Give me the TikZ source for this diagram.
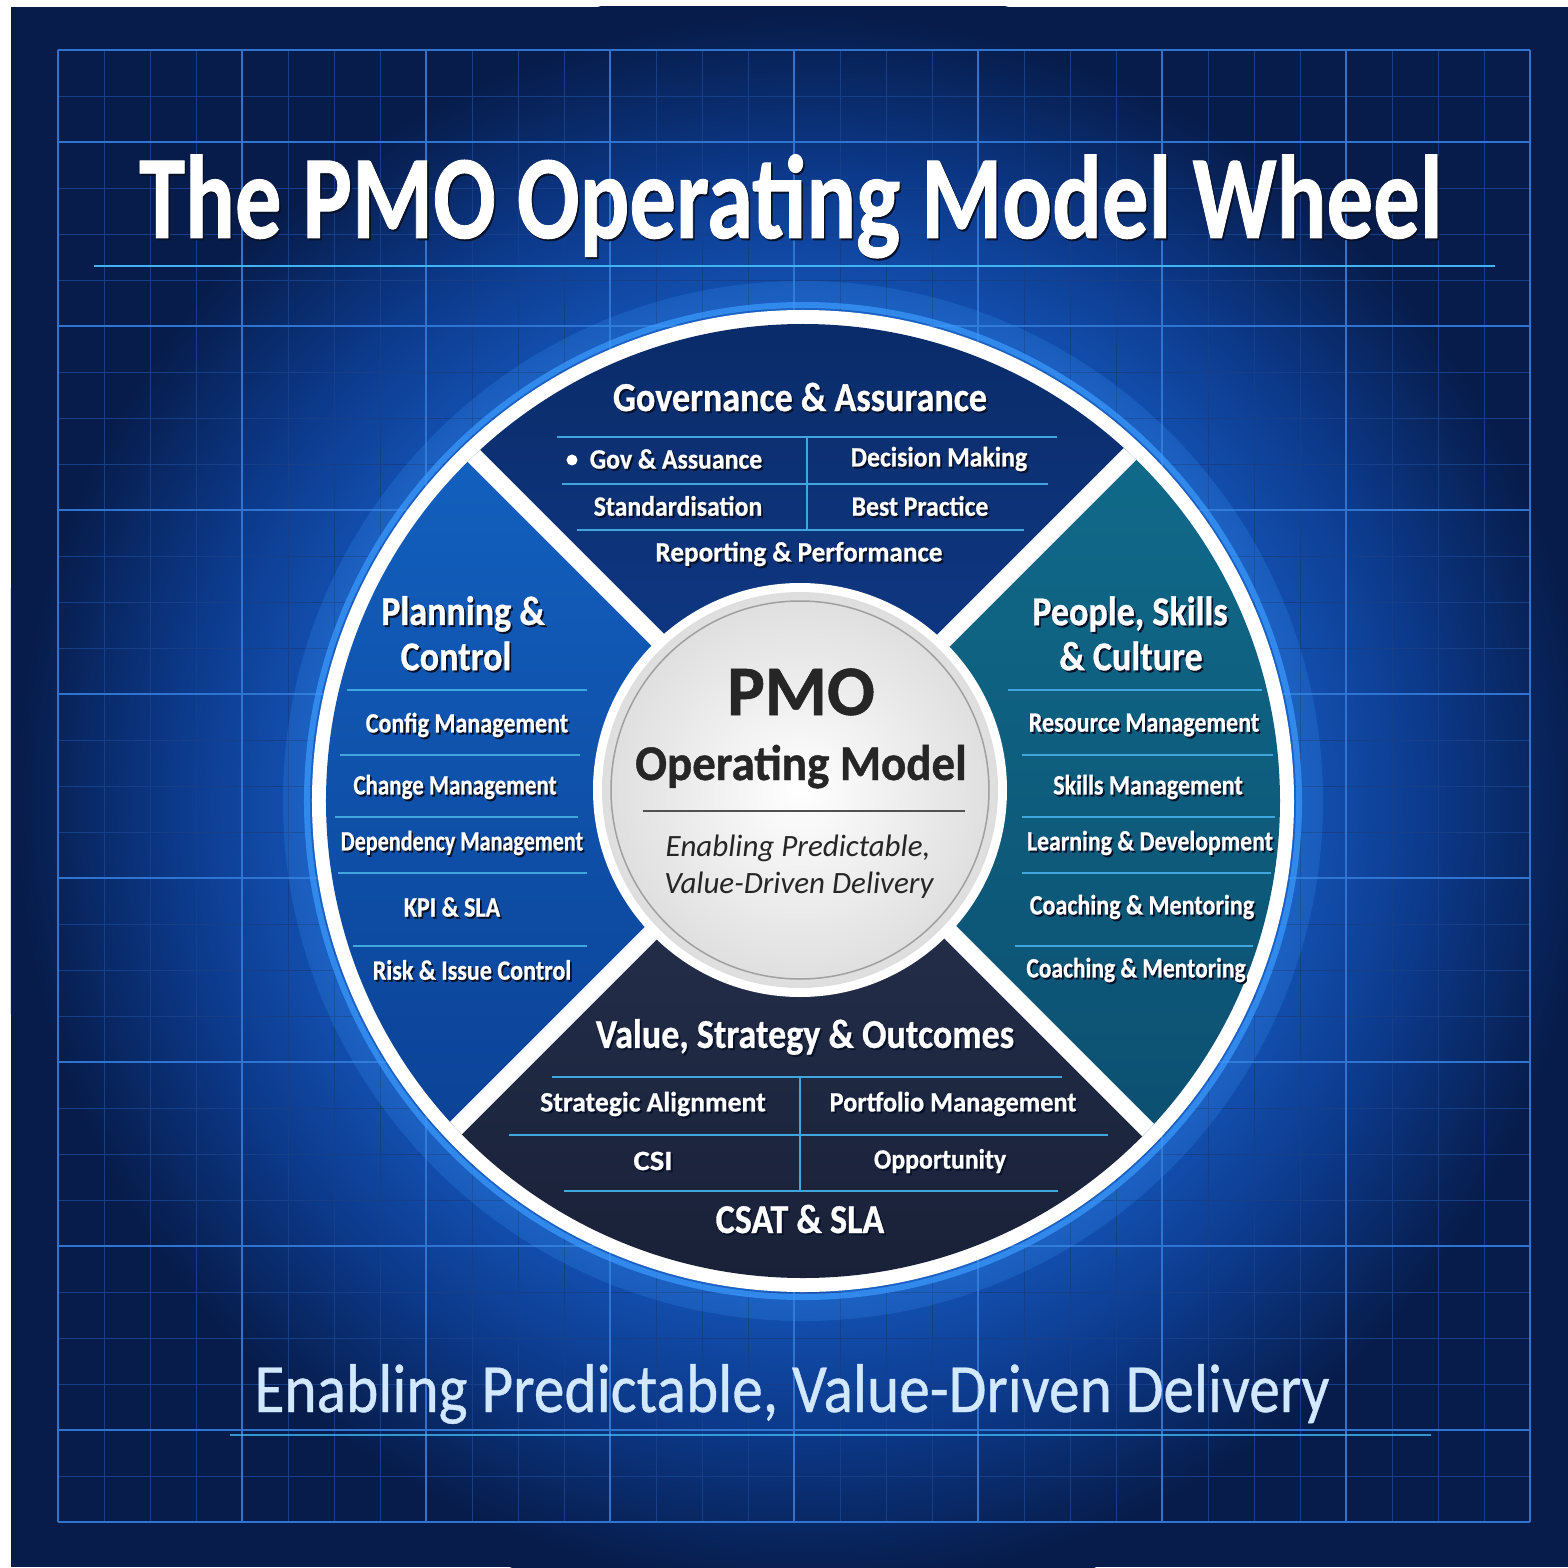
\documentclass[tikz,border=0pt]{standalone}
\usepackage{fontspec}
\setmainfont{Carlito}[BoldFeatures={FakeBold=0.8}]

\definecolor{bgdark}{HTML}{071C4A}
\definecolor{glowin}{HTML}{1452B4}
\definecolor{glowmid}{HTML}{0C3A8C}
\definecolor{gridminor}{HTML}{163F88}
\definecolor{gridmajor}{HTML}{2F74D0}
\definecolor{glowblue}{HTML}{3B9BFF}
\definecolor{govtop}{HTML}{0A2A66}
\definecolor{govbot}{HTML}{103C8C}
\definecolor{plantop}{HTML}{1467C8}
\definecolor{planbot}{HTML}{0A3C8E}
\definecolor{peoptop}{HTML}{11708F}
\definecolor{peopbot}{HTML}{0B4A6C}
\definecolor{valtop}{HTML}{27324F}
\definecolor{valbot}{HTML}{192138}
\definecolor{ruleblue}{HTML}{3FA6DE}
\definecolor{discedge}{HTML}{DEDEDE}
\definecolor{discring}{HTML}{A0A0A0}
\definecolor{pmodark}{HTML}{262626}
\definecolor{cyanline}{HTML}{3FB4F0}
\definecolor{taglinec}{HTML}{D2E8FF}
\definecolor{shadowc}{HTML}{07122A}

\pgfdeclareradialshading{bgglow}{\pgfpoint{0bp}{0bp}}{color(0bp)=(glowin); color(15bp)=(glowin); color(19bp)=(glowmid); color(24bp)=(bgdark); color(50bp)=(bgdark)}

\newcommand{\shtxt}[1]{\rlap{\kern2pt\raisebox{-2pt}{\color{shadowc}#1}}#1}
\newcommand{\sq}[2]{\scalebox{#1}[1]{\shtxt{#2}}}

\begin{document}
\begin{tikzpicture}[x=1pt, y=1pt]
    \tikzstyle{every node}=[inner sep=0pt, text=white]
    \tikzstyle{headtxt}=[font=\fontsize{41}{44}\selectfont\bfseries]
    \tikzstyle{itemtxt}=[font=\fontsize{28}{30}\selectfont\bfseries]
    \tikzstyle{sectline}=[ruleblue, line width=2pt]
    \tikzstyle{minor}=[gridminor, line width=0.7pt]
    \tikzstyle{major}=[gridmajor, line width=1.2pt]

    % background and grid
    \fill[white] (-803,-766) rectangle (765,801);
    \fill[bgdark] (-792,-766) rectangle (765,794);
    \begin{scope}
        \clip (-792,-766) rectangle (765,794);
        \shade[shading=bgglow] (0,0) circle (820);
    \end{scope}
    \foreach \i in {0,...,32} {
        \draw[minor] (-745+46*\i,-721) -- (-745+46*\i,751);
        \draw[minor] (-745,751-46*\i) -- (727,751-46*\i);
    }
    \foreach \i in {0,4,...,32}
        \draw[major] (-745+46*\i,-721) -- (-745+46*\i,751);
    \foreach \i in {0,2,6,10,14,18,22,26,30,32}
        \draw[major] (-745,751-46*\i) -- (727,751-46*\i);

    % title
    \node[anchor=base, font=\fontsize{119}{119}\selectfont\bfseries] (ttl) at (-12,563) {\sq{0.78}{The PMO Operating Model Wheel}};
    \draw[cyanline, line width=2.5pt] (-709,535) -- (692,535);

    % wheel
    \draw[glowblue, line width=30pt, opacity=.2] (0,0) circle (505);
    \draw[glowblue, line width=6pt, opacity=.7] (0,0) circle (496);
    \fill[white] (0,0) circle (491);
    \begin{scope}
        \clip (0,0) circle (477);
        \shade[top color=govtop, bottom color=govbot] (-2,18) -- (498,518) -- (-502,518) -- cycle;
        \shade[top color=plantop, bottom color=planbot] (-2,18) -- (-502,518) -- (-502,-482) -- cycle;
        \shade[top color=peoptop, bottom color=peopbot] (-2,18) -- (498,518) -- (498,-482) -- cycle;
        \shade[top color=valtop, bottom color=valbot] (-2,18) -- (-502,-482) -- (498,-482) -- cycle;
        \draw[white, line width=17pt] (-502,-482) -- (498,518);
        \draw[white, line width=17pt] (-502,518) -- (498,-482);
    \end{scope}

    % governance & assurance
    \node[headtxt] (gov) at (-3,403) {\sq{0.88}{Governance \& Assurance}};
    \draw[sectline] (-246,364) -- (254,364);
    \draw[sectline] (-241,317) -- (245,317);
    \draw[sectline] (-226,271) -- (221,271);
    \draw[sectline] (4,364) -- (4,271);
    \node[circle, fill=white, minimum size=11pt] (bul) at (-231,341) {};
    \node[itemtxt] (gov1) at (-127,341) {\sq{0.92}{Gov \& Assuance}};
    \node[itemtxt] (gov2) at (136,341) {\sq{0.92}{Decision Making}};
    \node[itemtxt] (gov3) at (-125,294) {\sq{0.92}{Standardisation}};
    \node[itemtxt] (gov4) at (117,294) {\sq{0.92}{Best Practice}};
    \node[itemtxt] (gov5) at (-4,246) {\sq{0.97}{Reporting \& Performance}};

    % planning & control
    \node[headtxt] (plan1) at (-340,186) {\sq{0.88}{Planning \&}};
    \node[headtxt] (plan2) at (-347,144) {\sq{0.88}{Control}};
    \draw[sectline] (-456,111) -- (-216,111);
    \draw[sectline] (-463,46) -- (-223,46);
    \draw[sectline] (-468,-16) -- (-225,-16);
    \draw[sectline] (-465,-72) -- (-216,-72);
    \draw[sectline] (-450,-145) -- (-216,-145);
    \node[itemtxt] (plan3) at (-336,75) {\sq{0.86}{Config Management}};
    \node[itemtxt] (plan4) at (-348,13) {\sq{0.82}{Change Management}};
    \node[itemtxt] (plan5) at (-341,-43) {\sq{0.79}{Dependency Management}};
    \node[itemtxt] (plan6) at (-351,-107) {\sq{0.86}{KPI \& SLA}};
    \node[itemtxt] (plan7) at (-331,-170) {\sq{0.86}{Risk \& Issue Control}};

    % people, skills & culture
    \node[headtxt] (peop1) at (327,186) {\sq{0.88}{People, Skills}};
    \node[headtxt] (peop2) at (328,144) {\sq{0.88}{\& Culture}};
    \draw[sectline] (205,111) -- (459,111);
    \draw[sectline] (219,46) -- (470,46);
    \draw[sectline] (219,-16) -- (472,-16);
    \draw[sectline] (219,-72) -- (468,-72);
    \draw[sectline] (212,-145) -- (450,-145);
    \node[itemtxt] (peop3) at (341,75) {\sq{0.86}{Resource Management}};
    \node[itemtxt] (peop4) at (345,13) {\sq{0.86}{Skills Management}};
    \node[itemtxt] (peop5) at (347,-43) {\sq{0.85}{Learning \& Development}};
    \node[itemtxt] (peop6) at (339,-107) {\sq{0.86}{Coaching \& Mentoring}};
    \node[itemtxt] (peop7) at (333,-170) {\sq{0.84}{Coaching \& Mentoring}};

    % value, strategy & outcomes
    \node[headtxt] (val) at (2,-237) {\sq{0.88}{Value, Strategy \& Outcomes}};
    \draw[sectline] (-251,-276) -- (259,-276);
    \draw[sectline] (-294,-334) -- (305,-334);
    \draw[sectline] (-239,-390) -- (255,-390);
    \draw[sectline] (-3,-276) -- (-3,-390);
    \node[itemtxt] (val1) at (-150,-304) {\sq{0.99}{Strategic Alignment}};
    \node[itemtxt] (val2) at (150,-304) {\sq{0.94}{Portfolio Management}};
    \node[itemtxt] (val3) at (-150,-361) {\sq{1.1}{CSI}};
    \node[itemtxt] (val4) at (137,-361) {\sq{0.92}{Opportunity}};
    \node[headtxt] (val5) at (-3,-419) {\sq{0.88}{CSAT \& SLA}};

    % centre disc
    \fill[white] (-3,11) circle (207);
    \shade[inner color=white, outer color=discedge] (-3,11) circle (198);
    \draw[discring, line width=1.5pt] (-3,11) circle (189);
    \node[anchor=base, text=pmodark, font=\fontsize{71}{71}\selectfont\bfseries] (pmo) at (-2,86) {PMO};
    \node[anchor=base, text=pmodark, font=\fontsize{50}{50}\selectfont\bfseries] (opm) at (-2,21) {\scalebox{0.94}[1]{Operating Model}};
    \draw[pmodark!80, line width=1.5pt] (-160,-10) -- (162,-10);
    \node[text=pmodark, font=\fontsize{31}{31}\selectfont\itshape] (sub1) at (-5,-47) {Enabling Predictable,};
    \node[text=pmodark, font=\fontsize{31}{31}\selectfont\itshape] (sub2) at (-4,-84) {Value-Driven Delivery};

    % tagline
    \node[anchor=base, text=taglinec, font=\fontsize{69}{69}\selectfont\addfontfeature{FakeBold=0.6}] (tagline) at (-11,-611) {\scalebox{0.89}[1]{Enabling Predictable, Value-Driven Delivery}};
    \draw[cyanline, line width=2pt, opacity=.8] (-573,-634) -- (628,-634);
\end{tikzpicture}
\end{document}
